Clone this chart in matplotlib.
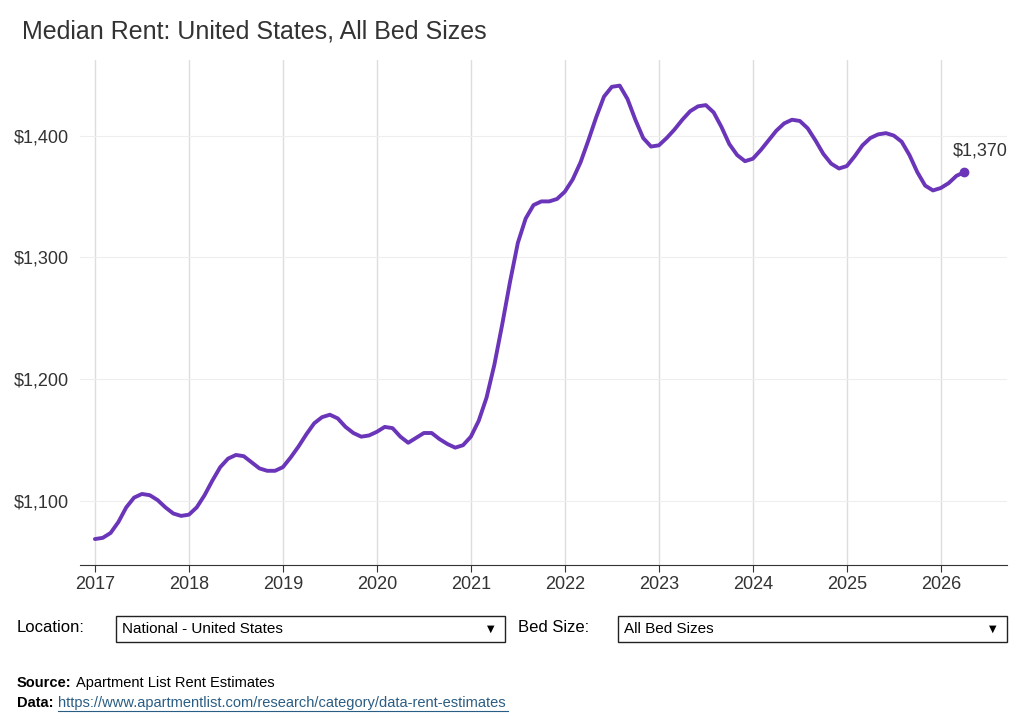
import matplotlib
matplotlib.use("Agg")
import matplotlib.pyplot as plt
from matplotlib.patches import Rectangle
import numpy as np

plt.rcParams['font.family'] = ['Liberation Sans', 'DejaVu Sans']

rent = [
 1069,1070,1074,1083,1095,1103,1106,1105,1101,1095,1090,1088,
 1089,1095,1105,1117,1128,1135,1138,1137,1132,1127,1125,1125,
 1128,1136,1145,1155,1164,1169,1171,1168,1161,1156,1153,1154,
 1157,1161,1160,1153,1148,1152,1156,1156,1151,1147,1144,1146,
 1153,1166,1185,1212,1245,1280,1312,1332,1343,1346,1346,1348,
 1354,1364,1378,1396,1415,1432,1440,1441,1430,1413,1398,1391,
 1392,1398,1405,1413,1420,1424,1425,1419,1407,1393,1384,1379,
 1381,1388,1396,1404,1410,1413,1412,1406,1396,1385,1377,1373,
 1375,1383,1392,1398,1401,1402,1400,1395,1384,1370,1359,1355,
 1357,1361,1367,1370]
years = list(range(2017, 2027))
yticks = [1100, 1200, 1300, 1400]

t = 2017 + np.arange(len(rent)) / 12.0
color = "#6a35b8"

fig = plt.figure(figsize=(10.24, 7.23), dpi=100)
ax = fig.add_axes([0.078, 0.219, 0.905, 0.698])
ax.plot(t, rent, color=color, lw=2.8, solid_capstyle="round")
ax.plot(t[-1], rent[-1], "o", color=color, ms=6)
ax.annotate(f"${rent[-1]:,}", (t[-1], rent[-1]), xytext=(-8, 9), textcoords="offset points",
            fontsize=13, color="#333333", ha="left", va="bottom")
ax.set_xlim(2016.84, 2026.7)
ax.set_ylim(1048, 1462)
ax.set_xticks(years)
ax.set_xticklabels([str(y) for y in years])
ax.set_yticks(yticks)
ax.set_yticklabels([f"${v:,}" for v in yticks])
ax.grid(axis="x", color="#dddddd", lw=1)
ax.grid(axis="y", color="#eeeeee", lw=0.8)
ax.set_axisbelow(True)
for s in ["top", "right", "left"]:
    ax.spines[s].set_visible(False)
ax.spines["bottom"].set_color("#333333")
ax.tick_params(axis="y", length=0, labelsize=13, colors="#333333", pad=8)
ax.tick_params(axis="x", length=5, labelsize=13, colors="#333333", color="#333333")

fig.text(22/1024, 1-32/723, "Median Rent: United States, All Bed Sizes", fontsize=18,
         color="#333333", va="center", ha="left")

W, H = 1024, 723
def dropdown(x0, x1, y0, y1, text):
    fig.patches.append(Rectangle((x0/W, 1-y1/H), (x1-x0)/W, (y1-y0)/H, transform=fig.transFigure,
                                 fill=False, edgecolor="#222222", lw=1))
    fig.text((x0+6)/W, 1-((y0+y1)/2)/H, text, fontsize=11, va="center", ha="left")
    fig.text((x1-14)/W, 1-((y0+y1)/2)/H, "▼", family="DejaVu Sans", fontsize=7, va="center", ha="center")

fig.text(17/W, 1-628/H, "Location:", fontsize=12, va="center")
dropdown(116, 505, 616, 642, "National - United States")
fig.text(518/W, 1-628/H, "Bed Size:", fontsize=12, va="center")
dropdown(618, 1007, 616, 642, "All Bed Sizes")

fig.text(17/W, 1-683/H, "Source:", fontsize=10.5, fontweight="bold", va="center")
fig.text(76/W, 1-683/H, "Apartment List Rent Estimates", fontsize=10.5, va="center")
fig.text(17/W, 1-703/H, "Data:", fontsize=10.5, fontweight="bold", va="center")
fig.text(58/W, 1-703/H, "https://www.apartmentlist.com/research/category/data-rent-estimates",
         fontsize=10.5, va="center", color="#2a5d84")
fig.lines.append(plt.Line2D([58/W, 508/W], [1-711/H]*2, transform=fig.transFigure,
                            color="#2a5d84", lw=0.8))
fig.savefig("out.png", dpi=100)
